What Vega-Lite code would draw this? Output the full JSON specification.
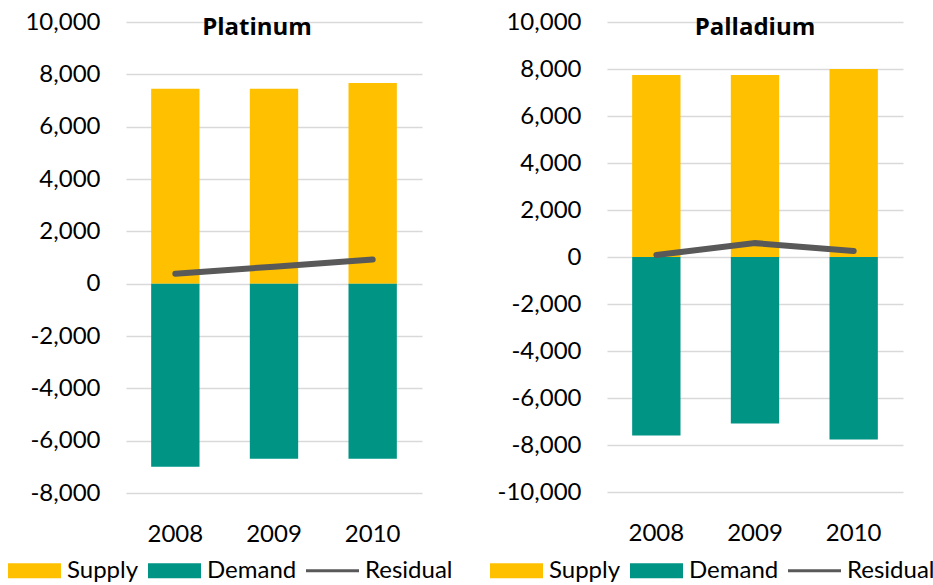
{
  "$schema": "https://vega.github.io/schema/vega-lite/v6.json",
  "background": "white",
  "padding": {"left": 8, "top": 10, "right": 0, "bottom": 0},
  "config": {
    "font": "Lato",
    "view": {"stroke": null},
    "axis": {"labelFont": "Lato", "labelFontSize": 24, "labelColor": "#000000", "title": null, "ticks": false, "domain": false},
    "axisY": {"gridColor": "#D9D9D9", "gridWidth": 1.5, "labelPadding": 26},
    "axisX": {"grid": false, "labelPadding": 29, "labelAngle": 0},
    "legend": {
      "orient": "none", "direction": "horizontal", "title": null,
      "labelFont": "Lato", "labelFontSize": 24, "labelColor": "#000000",
      "symbolSize": 2809, "symbolStrokeWidth": 0, "labelOffset": 6, "columnPadding": 9,
      "symbolType": "M-1,-0.283H1V0.283H-1Z"
    },
    "concat": {"spacing": 37}
  },
  "datasets": {
    "pgm": [
      {"metal": "Platinum", "year": "2008", "series": "Supply", "value": 7450},
      {"metal": "Platinum", "year": "2009", "series": "Supply", "value": 7450},
      {"metal": "Platinum", "year": "2010", "series": "Supply", "value": 7670},
      {"metal": "Platinum", "year": "2008", "series": "Demand", "value": -7000},
      {"metal": "Platinum", "year": "2009", "series": "Demand", "value": -6690},
      {"metal": "Platinum", "year": "2010", "series": "Demand", "value": -6690},
      {"metal": "Platinum", "year": "2008", "series": "Residual", "value": 380},
      {"metal": "Platinum", "year": "2009", "series": "Residual", "value": 650},
      {"metal": "Platinum", "year": "2010", "series": "Residual", "value": 920},
      {"metal": "Palladium", "year": "2008", "series": "Supply", "value": 7740},
      {"metal": "Palladium", "year": "2009", "series": "Supply", "value": 7740},
      {"metal": "Palladium", "year": "2010", "series": "Supply", "value": 8000},
      {"metal": "Palladium", "year": "2008", "series": "Demand", "value": -7600},
      {"metal": "Palladium", "year": "2009", "series": "Demand", "value": -7090},
      {"metal": "Palladium", "year": "2010", "series": "Demand", "value": -7770},
      {"metal": "Palladium", "year": "2008", "series": "Residual", "value": 85},
      {"metal": "Palladium", "year": "2009", "series": "Residual", "value": 590},
      {"metal": "Palladium", "year": "2010", "series": "Residual", "value": 255}
    ]
  },
  "data": {"name": "pgm"},
  "resolve": {"scale": {"color": "independent", "y": "independent"}, "legend": {"color": "independent"}},
  "hconcat": [
    {
      "width": 296, "height": 471,
      "title": {"text": "Platinum", "fontSize": 24, "fontWeight": "bold", "font": "Open Sans", "color": "#000000", "anchor": "middle", "dx": -17, "offset": -30},
      "transform": [{"filter": "datum.metal === 'Platinum'"}],
      "encoding": {"x": {"field": "year", "type": "ordinal", "scale": {"paddingInner": 0.51, "paddingOuter": 0.255}}},
      "layer": [
        {
          "transform": [{"filter": "datum.series !== 'Residual'"}],
          "mark": {"type": "bar"},
          "encoding": {
            "y": {"field": "value", "type": "quantitative", "stack": null, "scale": {"domain": [-8000, 10000], "nice": false},
                  "axis": {"values": [-8000, -6000, -4000, -2000, 0, 2000, 4000, 6000, 8000, 10000], "labelExpr": "replace(format(datum.value, ','), '\u2212', '-')"}},
            "color": {"field": "series", "type": "nominal",
                      "scale": {"domain": ["Supply", "Demand", "Residual"], "range": ["#FFC000", "#009485", "#595959"]},
                      "legend": {"legendX": -118, "legendY": 522,
                                 "encode": {"symbols": {"update": {
                                   "shape": {"signal": "datum.value === 'Residual' ? 'M-1,-0.06H1V0.06H-1Z' : 'M-1,-0.283H1V0.283H-1Z'"},
                                   "fill": {"signal": "datum.value === 'Supply' ? '#FFC000' : datum.value === 'Demand' ? '#009485' : '#595959'"},
                                   "stroke": {"value": "transparent"}, "opacity": {"value": 1}}}}}}
          }
        },
        {"mark": {"type": "rule", "color": "#898989", "strokeWidth": 3}, "encoding": {"y": {"datum": 0}}},
        {
          "transform": [{"filter": "datum.series === 'Residual'"}],
          "mark": {"type": "line", "strokeWidth": 6, "strokeCap": "round"},
          "encoding": {
            "y": {"field": "value", "type": "quantitative"},
            "color": {"field": "series", "type": "nominal"}
          }
        }
      ]
    },
    {
      "width": 296, "height": 470,
      "title": {"text": "Palladium", "fontSize": 24, "fontWeight": "bold", "font": "Open Sans", "color": "#000000", "anchor": "middle", "dx": 0, "offset": -30},
      "transform": [{"filter": "datum.metal === 'Palladium'"}],
      "encoding": {"x": {"field": "year", "type": "ordinal", "scale": {"paddingInner": 0.51, "paddingOuter": 0.255}}},
      "layer": [
        {
          "transform": [{"filter": "datum.series !== 'Residual'"}],
          "mark": {"type": "bar"},
          "encoding": {
            "y": {"field": "value", "type": "quantitative", "stack": null, "scale": {"domain": [-10000, 10000], "nice": false},
                  "axis": {"values": [-10000, -8000, -6000, -4000, -2000, 0, 2000, 4000, 6000, 8000, 10000], "labelExpr": "replace(format(datum.value, ','), '\u2212', '-')"}},
            "color": {"field": "series", "type": "nominal",
                      "scale": {"domain": ["Supply", "Demand", "Residual"], "range": ["#FFC000", "#009485", "#595959"]},
                      "legend": {"legendX": -117, "legendY": 522,
                                 "encode": {"symbols": {"update": {
                                   "shape": {"signal": "datum.value === 'Residual' ? 'M-1,-0.06H1V0.06H-1Z' : 'M-1,-0.283H1V0.283H-1Z'"},
                                   "fill": {"signal": "datum.value === 'Supply' ? '#FFC000' : datum.value === 'Demand' ? '#009485' : '#595959'"},
                                   "stroke": {"value": "transparent"}, "opacity": {"value": 1}}}}}}
          }
        },
        {"mark": {"type": "rule", "color": "#898989", "strokeWidth": 3}, "encoding": {"y": {"datum": 0}}},
        {
          "transform": [{"filter": "datum.series === 'Residual'"}],
          "mark": {"type": "line", "strokeWidth": 6, "strokeCap": "round"},
          "encoding": {
            "y": {"field": "value", "type": "quantitative"},
            "color": {"field": "series", "type": "nominal"}
          }
        }
      ]
    }
  ]
}
